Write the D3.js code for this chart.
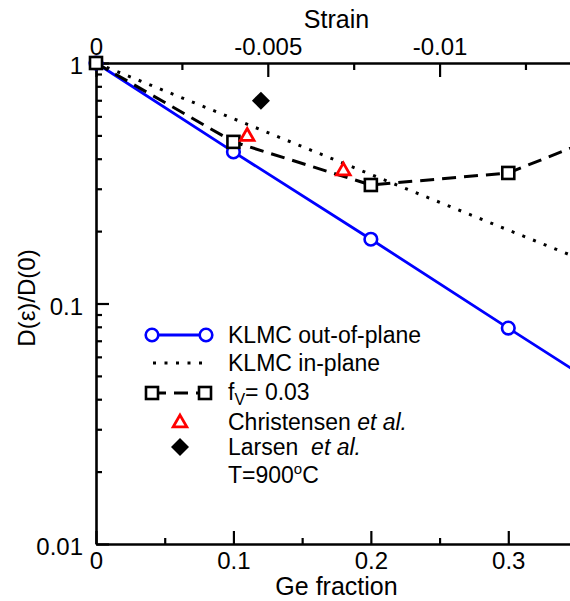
<!DOCTYPE html>
<html><head><meta charset="utf-8">
<script src="https://cdn.jsdelivr.net/npm/d3@7"></script>
<style>
body{margin:0;background:#fff}
svg{display:block}
</style></head>
<body><svg id="c" width="570" height="601"></svg>
<script>
// ---- data ----
const geOut = [0, 0.1, 0.2, 0.3, 0.4];
const dOut  = [1, 0.427, 0.185, 0.079, 0.034];
const geIn  = [0, 0.1, 0.2, 0.3, 0.4];
const dIn   = [1, 0.587, 0.344, 0.202, 0.119];
const geFv  = [0, 0.1, 0.2, 0.3, 0.4];
const dFv   = [1, 0.47, 0.311, 0.349, 0.59];
const geChr = [0.11, 0.18];
const dChr  = [0.50, 0.359];
const geLar = [0.12];
const dLar  = [0.697];
const xTicks = [0, 0.1, 0.2, 0.3];
const xMinor = [0.05, 0.15, 0.25, 0.35];
const sTicks = [0, -0.005, -0.01];
const sMinor = [-0.0025, -0.0075, -0.0125];
const yTicks = [0.01, 0.1, 1];
const legendLabels = ["KLMC out-of-plane", "KLMC in-plane", "f", "V", "= 0.03", "Christensen ", "Larsen\u00a0\u00a0", "et al.", "T=900", "o", "C"];

const FONT = "Liberation Sans";
const L = 96, R = 577, T = 63, B = 544;
const svg = d3.select("#c").attr("font-family", FONT);
const x = d3.scaleLinear().domain([0, 0.35]).range([L, R]);
const s = d3.scaleLinear().domain([0, -0.014]).range([L, R]);
const y = d3.scaleLog().domain([0.01, 1]).range([B, T]);

const yMinor = [];
[0.01, 0.1].forEach(d => { for (let k = 2; k <= 9; k++) yMinor.push(+(k * d).toPrecision(3)); });

const fmt = d => String(d);
function styleAxis(g, size) {
  g.attr("font-family", FONT);
  g.select(".domain").attr("stroke", "#000").attr("stroke-width", 2.6);
  g.selectAll(".tick line").attr("stroke", "#000").attr("stroke-width", 2.2);
  g.selectAll(".tick text").attr("font-family", FONT).attr("font-size", size).attr("fill", "#000");
}
const gb = svg.append("g").attr("transform", `translate(0,${B})`)
  .call(d3.axisBottom(x).tickValues(xTicks).tickFormat(fmt).tickSizeInner(-13).tickSizeOuter(0).tickPadding(8));
styleAxis(gb, 24);
const gbm = svg.append("g").attr("transform", `translate(0,${B})`)
  .call(d3.axisBottom(x).tickValues(xMinor).tickFormat("").tickSizeInner(-6).tickSizeOuter(0));
styleAxis(gbm, 24); gbm.select(".domain").remove();
const gt = svg.append("g").attr("transform", `translate(0,${T})`)
  .call(d3.axisTop(s).tickValues(sTicks).tickFormat(fmt).tickSizeInner(-14).tickSizeOuter(0).tickPadding(8));
styleAxis(gt, 24);
const gtm = svg.append("g").attr("transform", `translate(0,${T})`)
  .call(d3.axisTop(s).tickValues(sMinor).tickFormat("").tickSizeInner(-7).tickSizeOuter(0));
styleAxis(gtm, 24); gtm.select(".domain").remove();
const gl = svg.append("g").attr("transform", `translate(${L},0)`)
  .call(d3.axisLeft(y).tickValues(yTicks).tickFormat(fmt).tickSizeInner(-13).tickSizeOuter(0).tickPadding(13));
styleAxis(gl, 24);
gl.selectAll(".tick text").attr("dy", "0.45em");
const glm = svg.append("g").attr("transform", `translate(${L},0)`)
  .call(d3.axisLeft(y).tickValues(yMinor).tickFormat("").tickSizeInner(-6).tickSizeOuter(0));
styleAxis(glm, 24); glm.select(".domain").remove();

svg.append("text").attr("x", (L + R) / 2).attr("y", 28).attr("text-anchor", "middle").attr("font-size", 25).text("Strain");
svg.append("text").attr("x", (L + R) / 2).attr("y", 595).attr("text-anchor", "middle").attr("font-size", 25).text("Ge fraction");
svg.append("text").attr("transform", "translate(35,298) rotate(-90)").attr("text-anchor", "middle").attr("font-size", 24).text("D(ε)/D(0)");

const line = d3.line().x(d => x(d[0])).y(d => y(d[1]));
const outPts = geOut.map((g, i) => [g, dOut[i]]);
const inPts = geIn.map((g, i) => [g, dIn[i]]);
const fvPts = geFv.map((g, i) => [g, dFv[i]]);
svg.append("path").attr("d", line(inPts)).attr("fill", "none").attr("stroke", "#000").attr("stroke-width", 3).attr("stroke-dasharray", "3,8.5");
svg.append("path").attr("d", line(outPts)).attr("fill", "none").attr("stroke", "#0000ff").attr("stroke-width", 2.8);
svg.append("path").attr("d", line(fvPts)).attr("fill", "none").attr("stroke", "#000").attr("stroke-width", 3).attr("stroke-dasharray", "14,8");

const sym = (type, size) => d3.symbol().type(type).size(size)();
function circ(g, cx, cy) { g.append("circle").attr("cx", cx).attr("cy", cy).attr("r", 6.3).attr("fill", "#fff").attr("stroke", "#0000ff").attr("stroke-width", 2.6); }
function sq(g, cx, cy) { g.append("rect").attr("x", cx - 6).attr("y", cy - 6).attr("width", 12).attr("height", 12).attr("fill", "#fff").attr("stroke", "#000").attr("stroke-width", 2.6); }
function tri(g, cx, cy) { g.append("path").attr("d", sym(d3.symbolTriangle, 80)).attr("transform", `translate(${cx},${cy+1})`).attr("fill", "#fff").attr("stroke", "#ff0000").attr("stroke-width", 2.8); }
function dia(g, cx, cy) { g.append("path").attr("d", "M0,-9L9,0L0,9L-9,0Z").attr("transform", `translate(${cx},${cy})`).attr("fill", "#000"); }

const mk = svg.append("g");
outPts.forEach(p => circ(mk, x(p[0]), y(p[1])));
fvPts.forEach(p => sq(mk, x(p[0]), y(p[1])));
geChr.forEach((g, i) => tri(mk, x(g), y(dChr[i])));
geLar.forEach((g, i) => dia(mk, x(g), y(dLar[i])));

const lg = svg.append("g");
const lx0 = 152, lx1 = 206, tx = 228;
const rows = [335, 363, 393, 422, 447, 475];
lg.append("line").attr("x1", lx0).attr("x2", lx1).attr("y1", rows[0]).attr("y2", rows[0]).attr("stroke", "#0000ff").attr("stroke-width", 2.8);
circ(lg, lx0, rows[0]); circ(lg, lx1, rows[0]);
lg.append("line").attr("x1", 153).attr("x2", 206).attr("y1", rows[1]).attr("y2", rows[1]).attr("stroke", "#000").attr("stroke-width", 3).attr("stroke-dasharray", "3,8.5");
lg.append("line").attr("x1", lx0).attr("x2", lx1).attr("y1", rows[2]).attr("y2", rows[2]).attr("stroke", "#000").attr("stroke-width", 3).attr("stroke-dasharray", "14,8");
sq(lg, lx0, rows[2]); sq(lg, lx1 - 1, rows[2]);
tri(lg, 180, rows[3]);
dia(lg, 180, rows[4]);

const fs = 23;
lg.append("text").attr("x", tx).attr("y", rows[0] + 8).attr("font-size", fs).text(legendLabels[0]);
lg.append("text").attr("x", tx).attr("y", rows[1] + 8).attr("font-size", fs).text(legendLabels[1]);
const t2 = lg.append("text").attr("x", tx).attr("y", rows[2] + 7).attr("font-size", fs);
t2.append("tspan").text(legendLabels[2]);
t2.append("tspan").attr("dy", 5).attr("font-size", 16).text(legendLabels[3]);
t2.append("tspan").attr("dy", -5).text(legendLabels[4]);
const t3 = lg.append("text").attr("x", tx).attr("y", rows[3] + 8).attr("font-size", fs);
t3.append("tspan").text(legendLabels[5]);
t3.append("tspan").attr("font-style", "italic").text(legendLabels[7]);
const t4 = lg.append("text").attr("x", tx).attr("y", rows[4] + 8).attr("font-size", fs);
t4.append("tspan").text(legendLabels[6]);
t4.append("tspan").attr("font-style", "italic").text(legendLabels[7]);
const t5 = lg.append("text").attr("x", tx).attr("y", rows[5] + 8).attr("font-size", fs);
t5.append("tspan").text(legendLabels[8]);
t5.append("tspan").attr("dy", -9).attr("font-size", 15).text(legendLabels[9]);
t5.append("tspan").attr("dy", 9).text(legendLabels[10]);
</script></body></html>
